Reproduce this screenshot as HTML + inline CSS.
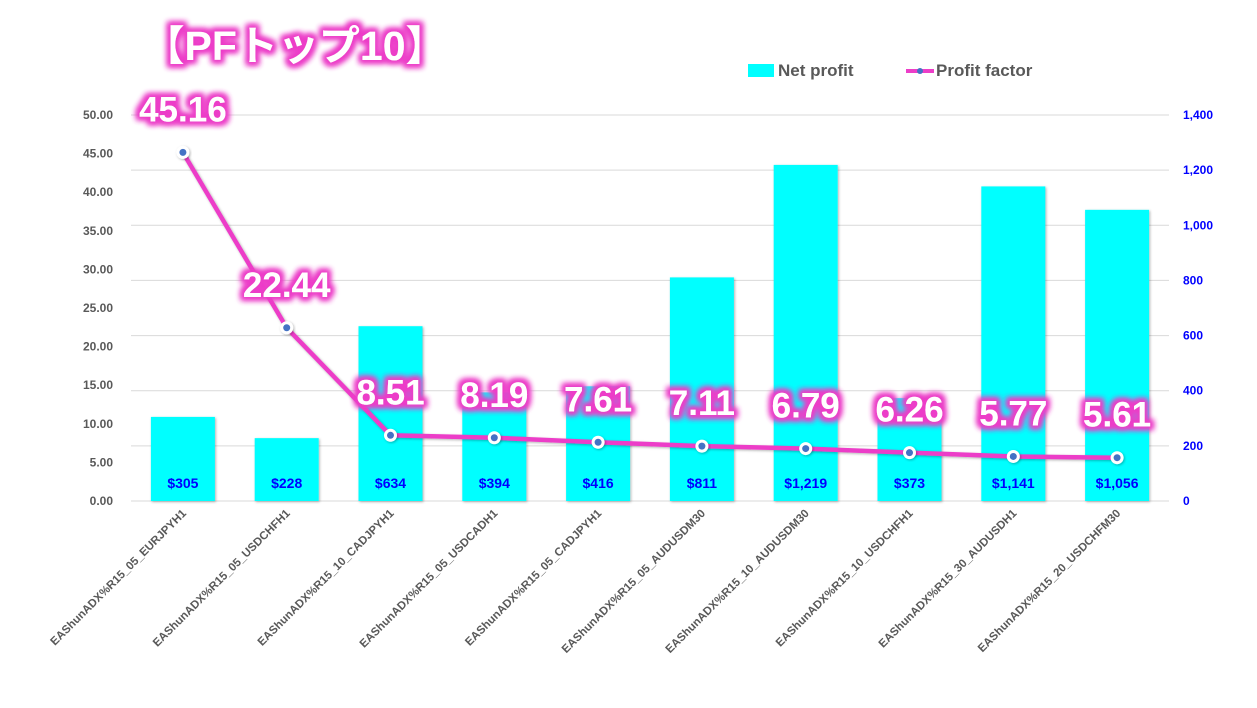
<!DOCTYPE html>
<html><head><meta charset="utf-8"><style>
body{margin:0;background:#fff;width:1257px;height:703px;overflow:hidden;font-family:"Liberation Sans","Noto Sans CJK JP",sans-serif}
svg text{font-family:"Liberation Sans","Noto Sans CJK JP",sans-serif}
</style></head><body>
<svg id="chart" width="1257" height="703" viewBox="0 0 1257 703" xmlns="http://www.w3.org/2000/svg">
<defs>
<filter id="glow" x="-30%" y="-50%" width="160%" height="200%">
<feMorphology in="SourceAlpha" operator="dilate" radius="3" result="d"/>
<feGaussianBlur in="d" stdDeviation="3" result="b"/>
<feFlood flood-color="#ec3ec8"/><feComposite in2="b" operator="in" result="g"/>
<feMerge><feMergeNode in="g"/><feMergeNode in="g"/><feMergeNode in="SourceGraphic"/></feMerge>
</filter>
<filter id="sh" x="-20%" y="-20%" width="140%" height="140%"><feDropShadow dx="1" dy="1" stdDeviation="1.2" flood-color="#000" flood-opacity="0.3"/></filter>
</defs>
<g id="grid"></g><g id="bars"></g><g id="line"></g><g id="labels"></g>
<text x="295" y="60" text-anchor="middle" font-size="41" font-weight="bold" fill="#fff" filter="url(#glow)">【PFトップ10】</text>
<g>
<rect x="748" y="64" width="26" height="13" fill="#00ffff"/>
<text x="778" y="76" font-size="17" font-weight="bold" fill="#595959">Net profit</text>
<line x1="906" y1="71" x2="934" y2="71" stroke="#ec3ec8" stroke-width="4"/>
<circle cx="920" cy="71" r="3" fill="#4472c4"/>
<text x="936" y="76" font-size="17" font-weight="bold" fill="#595959">Profit factor</text>
</g>
</svg>
<script>
const categories=["EAShunADX%R15_05_EURJPYH1","EAShunADX%R15_05_USDCHFH1","EAShunADX%R15_10_CADJPYH1","EAShunADX%R15_05_USDCADH1","EAShunADX%R15_05_CADJPYH1","EAShunADX%R15_05_AUDUSDM30","EAShunADX%R15_10_AUDUSDM30","EAShunADX%R15_10_USDCHFH1","EAShunADX%R15_30_AUDUSDH1","EAShunADX%R15_20_USDCHFM30"];
const netProfit=[305,228,634,394,416,811,1219,373,1141,1056];
const profitFactor=[45.16,22.44,8.51,8.19,7.61,7.11,6.79,6.26,5.77,5.61];
const leftTicks=[0,5,10,15,20,25,30,35,40,45,50];
const rightTicks=[0,200,400,600,800,1000,1200,1400];
const NS="http://www.w3.org/2000/svg";
const y0=501,y1=115,x0=131,x1=1169;
const yL=v=>y0-(v/50)*(y0-y1);
const yR=v=>y0-(v/1400)*(y0-y1);
const step=(x1-x0)/categories.length;
const xC=i=>x0+step*(i+0.5);
function mk(t,a,p){const e=document.createElementNS(NS,t);for(const k in a)e.setAttribute(k,a[k]);p.appendChild(e);return e;}
const grid=document.getElementById('grid'),bars=document.getElementById('bars'),line=document.getElementById('line'),labels=document.getElementById('labels');
rightTicks.forEach(v=>{
 const l=mk('line',{x1:x0,x2:x1,y1:yR(v),y2:yR(v),stroke:'#d9d9d9','stroke-width':1},grid);
 
 
 const t=mk('text',{x:1183,y:yR(v)+4,'font-size':12,'font-weight':'bold',fill:'#0000ff'},grid);
 t.textContent=v.toLocaleString('en-US');
 
 
});
leftTicks.forEach(v=>{
 const t=mk('text',{x:113,y:yL(v)+4,'font-size':12,'font-weight':'bold',fill:'#595959','text-anchor':'end'},grid);
 t.textContent=v.toFixed(2);
 
 
});
const bw=64;
netProfit.forEach((v,i)=>{
 const r=mk('rect',{x:xC(i)-bw/2,y:yR(v),width:bw,height:y0-yR(v),fill:'#00ffff',filter:'url(#sh)'},bars);
 
 
 const t=mk('text',{x:xC(i),y:488,'font-size':14,'font-weight':'bold',fill:'#0000ff','text-anchor':'middle','font-family':'Liberation Serif, serif'},bars);
 t.textContent='$'+v.toLocaleString('en-US');
 
 
 const c=mk('text',{x:0,y:0,'font-size':11.5,'font-weight':'bold',fill:'#595959','text-anchor':'end',transform:`translate(${xC(i)+4},${514}) rotate(-45)`},labels);
 c.textContent=categories[i];
 
 
});
const pts=profitFactor.map((v,i)=>xC(i)+','+yL(v)).join(' ');
const pl=mk('polyline',{points:pts,fill:'none',stroke:'#ec3ec8','stroke-width':4.5,'stroke-linejoin':'round',filter:'url(#sh)'},line);


profitFactor.forEach((v,i)=>{
 const c=mk('circle',{cx:xC(i),cy:yL(v),r:6.5,fill:'#fff',filter:'url(#sh)'},line);
 
 
 mk('circle',{cx:xC(i),cy:yL(v),r:3.5,fill:'#4472c4'},line);
 const t=mk('text',{x:xC(i),y:yL(v)-31,'font-size':35,'font-weight':'bold',fill:'#fff','text-anchor':'middle',filter:'url(#glow)'},labels);
 t.textContent=v.toFixed(2);
 
 
});
</script>
</body></html>
